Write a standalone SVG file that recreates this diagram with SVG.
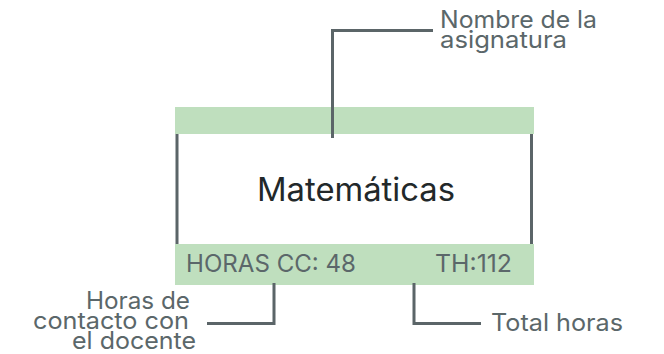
<svg xmlns="http://www.w3.org/2000/svg" width="664" height="354" viewBox="0 0 664 354">
<style>
.t{font-family:"Inter","Liberation Sans",sans-serif;fill:#5b676a;font-size:24px}
.c{fill:none;stroke:#5b6568;stroke-width:3}
.b{fill:#bfdfbe}
</style>
<rect width="664" height="354" fill="#fff"/>
<g id="top-bar"><rect class="b" x="175" y="107" width="359" height="27"/></g>
<g id="bottom-bar"><rect class="b" x="175" y="244" width="359" height="41"/>
<text class="t" x="186" y="272" textLength="170" lengthAdjust="spacingAndGlyphs">HORAS CC: 48</text><text class="t" x="435" y="272" textLength="77" lengthAdjust="spacingAndGlyphs">TH:112</text></g>
<g id="connectors">
<path class="c" d="M332.5 138V30.5H433"/>
<path class="c" d="M177 134V244M531.500 134V244"/>
<path class="c" d="M274 283V323.500H207"/>
<path class="c" d="M414 283V323.500H481"/>
</g>
<g id="main"><text x="257" y="201" textLength="198" lengthAdjust="spacingAndGlyphs" style="font-family:Inter,'Liberation Sans',sans-serif;font-size:32px;fill:#22282a">Matemáticas</text></g>
<g id="label-name"><text class="t" x="440" y="28" textLength="157" lengthAdjust="spacingAndGlyphs">Nombre de la</text><text class="t" x="440" y="48" textLength="127" lengthAdjust="spacingAndGlyphs">asignatura</text></g>
<g id="label-contact"><text class="t" x="86" y="309" textLength="104" lengthAdjust="spacingAndGlyphs">Horas de</text><text class="t" x="33" y="329" textLength="156" lengthAdjust="spacingAndGlyphs">contacto con</text><text class="t" x="72" y="349" textLength="124" lengthAdjust="spacingAndGlyphs">el docente</text></g>
<g id="label-total"><text class="t" x="491" y="331" textLength="132" lengthAdjust="spacingAndGlyphs">Total horas</text></g>
</svg>
